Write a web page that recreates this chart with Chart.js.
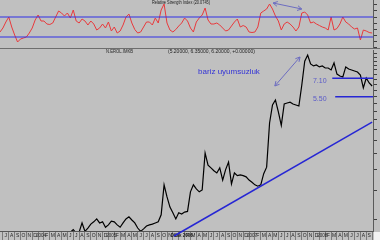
<!DOCTYPE html>
<html>
<head>
<meta charset="utf-8">
<script src="https://cdn.jsdelivr.net/npm/chart.js@4.4.0/dist/chart.umd.min.js"></script>
<style>
  html, body { margin: 0; padding: 0; background: #c0c0c0; }
  #wrap { position: relative; width: 380px; height: 240px; overflow: hidden; background: #c0c0c0; }
  #chartRsi { position: absolute; left: 0; top: 0; }
  #chartPrice { position: absolute; left: 0; top: 49px; }
  #sep { position: absolute; left: 0; top: 48px; width: 380px; height: 1px; background: #6e6e6e; }
  #corner { position: absolute; left: 374px; top: 232px; width: 6px; height: 8px; background: #f2f2f2; }
</style>
</head>
<body>
<div id="wrap">
  <canvas id="chartRsi" width="380" height="48"></canvas>
  <div id="sep"></div>
  <canvas id="chartPrice" width="380" height="191"></canvas>
  <div id="corner"></div>
</div>
<script>
// x axis is in months counted from June 2003, one point every half month
const XSTART = 0.5;
const STEP = 0.5;
const XMIN = 0.5;
const XMAX = 64.15;

const rsiValues = [
  40, 48, 60, 70, 50, 34, 20, 26, 28, 30,
  38, 48, 64, 74, 62, 62, 56, 55, 58, 70,
  82, 78, 72, 78, 68, 84, 62, 58, 66, 62,
  54, 62, 56, 44, 48, 56, 48, 60, 42, 50,
  38, 42, 54, 70, 76, 58, 45, 38, 40, 50,
  60, 60, 54, 68, 58, 84, 96, 58, 44, 40,
  45, 52, 58, 68, 62, 48, 40, 60, 68, 74,
  88, 64, 56, 56, 58, 54, 48, 42, 44, 52,
  60, 66, 50, 53, 50, 40, 39, 40, 50, 78,
  82, 86, 96, 86, 72, 62, 44, 56, 60, 56,
  50, 42, 50, 78, 80, 74, 58, 60, 56, 53,
  50, 48, 44, 70, 44, 47, 56, 70, 60, 56,
  50, 46, 48, 24, 44, 42, 39, 38
];

const priceValues = [
  0.72, 0.74, 0.73, 0.76, 0.75, 0.78, 0.77, 0.74, 0.76, 0.79, 0.78, 0.80,
  0.77, 0.79, 0.81, 0.78, 0.80, 0.82, 0.79, 0.81, 0.80, 0.83, 0.81, 0.82,
  0.84, 0.87, 0.83, 0.84, 0.955, 0.85, 0.89, 0.94, 0.97, 1.01,
  0.955, 0.97, 0.90, 0.93, 0.98, 0.97, 0.93, 0.90, 0.955, 1.01,
  1.04, 0.995, 0.955, 0.89, 0.85, 0.88, 0.915, 0.93, 0.94, 0.955,
  0.97, 1.07, 1.62, 1.37, 1.19, 1.10, 1.01, 1.10, 1.08, 1.11,
  1.12, 1.47, 1.62, 1.53, 1.47, 1.51, 2.52, 2.13, 2.05, 1.97,
  1.91, 2.05, 1.73, 2.00, 2.22, 1.64, 1.91, 1.84, 1.86, 1.84,
  1.81, 1.73, 1.68, 1.62, 1.59, 1.62, 1.89, 2.07, 3.82, 4.90,
  5.25, 4.45, 3.70, 4.97, 5.04, 5.10, 4.97, 4.90, 4.83, 6.47,
  9.00, 9.80, 8.66, 8.43, 8.54, 8.31, 8.43, 8.19, 8.19, 7.97,
  8.78, 7.53, 7.33, 7.23, 8.31, 8.08, 7.97, 7.86, 7.75, 7.43,
  6.21, 7.13, 6.65, 6.38
];

// month labels, July 2003 .. September 2008
const monthLabels = [
  "J", "A", "S", "O", "N", "D",
  "2004", "F", "M", "A", "M", "J", "J", "A", "S", "O", "N", "D",
  "2005", "F", "M", "A", "M", "J", "J", "A", "S", "O", "N", "D",
  "Ocak 2006", "F", "M", "A", "M", "J", "J", "A", "S", "O", "N", "D",
  "2007", "F", "M", "A", "M", "J", "J", "A", "S", "O", "N", "D",
  "2008", "F", "M", "A", "M", "J", "J", "A", "S"
];
const priceTicks = [1, 1.5, 2, 2.5, 3, 3.5, 4, 4.5, 5, 5.5, 6, 6.5, 7, 7.5, 8, 8.5, 9, 9.5, 10];
const rsiTicks = [10, 22, 34, 46, 58, 70, 82, 94];
const rsiLevels = [70, 30];

// annotations drawn on the price panel (months, price)
const levelValues = [7.10, 5.50];
const levelLabels = ["7.10", "5.50"];
const levelStart = [57.2, 57.7];
const levelLabelMonth = 53.9;
const trendLine = [[30.2, 0.797], [64.0, 3.87]];
const priceArrow = [[47.4, 6.38], [51.7, 9.54]];
const rsiArrow = [[47.1, 98], [52.0, 86]];
const noteText = "bariz uyumsuzluk";
const notePos = [34.3, 7.75];

function toPoints(values) {
  return values.map((v, i) => ({ x: XSTART + i * STEP, y: v }));
}

function doubleArrow(ctx, a, b, color) {
  ctx.save();
  ctx.strokeStyle = color;
  ctx.lineWidth = 1;
  ctx.beginPath();
  ctx.moveTo(a[0], a[1]);
  ctx.lineTo(b[0], b[1]);
  ctx.stroke();
  const ang = Math.atan2(b[1] - a[1], b[0] - a[0]);
  [[b, ang], [a, ang + Math.PI]].forEach(([p, t]) => {
    ctx.beginPath();
    ctx.moveTo(p[0] - 5 * Math.cos(t - 0.5), p[1] - 5 * Math.sin(t - 0.5));
    ctx.lineTo(p[0], p[1]);
    ctx.lineTo(p[0] - 5 * Math.cos(t + 0.5), p[1] - 5 * Math.sin(t + 0.5));
    ctx.stroke();
  });
  ctx.restore();
}

function sidePx(chart, pt) {
  return [chart.scales.x.getPixelForValue(pt[0]), chart.scales.y.getPixelForValue(pt[1])];
}

const rsiDecor = {
  id: "rsiDecor",
  afterDraw(chart) {
    const ctx = chart.ctx;
    doubleArrow(ctx, sidePx(chart, rsiArrow[0]), sidePx(chart, rsiArrow[1]), "#6c6cc0");
    ctx.save();
    ctx.fillStyle = "#202020";
    ctx.font = "5px Arial, 'Liberation Sans', sans-serif";
    ctx.textBaseline = "middle";
    ctx.fillText("Relative Strength Index (20.0745)", 152, 3, 58);
    ctx.restore();
  }
};

const priceDecor = {
  id: "priceDecor",
  afterDraw(chart) {
    const ctx = chart.ctx;
    const area = chart.chartArea;
    const xs = chart.scales.x;
    const ys = chart.scales.y;
    ctx.save();
    // trend line, runs over the date strip
    const t0 = sidePx(chart, trendLine[0]);
    const t1 = sidePx(chart, trendLine[1]);
    ctx.strokeStyle = "#2626d4";
    ctx.lineWidth = 1.5;
    ctx.beginPath();
    ctx.moveTo(t0[0], t0[1]);
    ctx.lineTo(t1[0], t1[1]);
    ctx.stroke();
    // support / resistance levels
    levelValues.forEach((lv, i) => {
      const y = ys.getPixelForValue(lv);
      ctx.strokeStyle = "#2626d4";
      ctx.lineWidth = 1.6;
      ctx.beginPath();
      ctx.moveTo(xs.getPixelForValue(levelStart[i]), y);
      ctx.lineTo(area.right, y);
      ctx.stroke();
      ctx.fillStyle = "#5a5ac8";
      ctx.font = "7px Arial, 'Liberation Sans', sans-serif";
      ctx.textBaseline = "top";
      ctx.fillText(levelLabels[i], xs.getPixelForValue(levelLabelMonth), y - 1);
    });
    // note
    const np = sidePx(chart, notePos);
    ctx.fillStyle = "#3333d6";
    ctx.font = "8px Arial, 'Liberation Sans', sans-serif";
    ctx.textBaseline = "middle";
    ctx.fillText(noteText, np[0], np[1]);
    // header texts
    ctx.fillStyle = "#252525";
    ctx.font = "5px Arial, 'Liberation Sans', sans-serif";
    ctx.fillText("N.EROL.IMKB", 106, area.top + 2, 27);
    ctx.fillText("(5.20000, 6.35000, 6.20000, +0.00000)", 168, area.top + 2, 87);
    ctx.restore();
    doubleArrow(ctx, sidePx(chart, priceArrow[0]), sidePx(chart, priceArrow[1]), "#6c6cc0");
  }
};

function rightAxis(extra) {
  return Object.assign({
    position: "right",
    bounds: "data",
    ticks: { display: false },
    grid: { drawOnChartArea: false, drawTicks: true, tickLength: 4, color: "#404040" },
    border: { display: true, color: "#5a5a5a", width: 1 },
    afterFit: (scale) => { scale.width = 7; }
  }, extra);
}

// horizontal RSI bands as plain two-point datasets, drawn over the RSI line
const levelSets = rsiLevels.map((lv) => ({
  data: [{ x: XMIN, y: lv }, { x: XMAX, y: lv }],
  borderColor: "#2f2fe6",
  borderWidth: 1,
  pointRadius: 0,
  order: 0
}));

new Chart(document.getElementById("chartRsi"), {
  type: "line",
  data: {
    datasets: [{
      data: toPoints(rsiValues),
      borderColor: "#e8393c",
      borderWidth: 1,
      pointRadius: 0,
      tension: 0,
      order: 1
    }].concat(levelSets)
  },
  options: {
    responsive: false,
    animation: false,
    events: [],
    layout: { padding: 0, autoPadding: false },
    plugins: { legend: { display: false }, tooltip: { enabled: false } },
    scales: {
      x: { type: "linear", min: XMIN, max: XMAX, display: false },
      y: rightAxis({
        type: "linear",
        min: 8,
        max: 104,
        afterBuildTicks: (scale) => { scale.ticks = rsiTicks.map((v) => ({ value: v })); }
      })
    }
  },
  plugins: [rsiDecor]
});

new Chart(document.getElementById("chartPrice"), {
  type: "line",
  data: {
    datasets: [{
      data: toPoints(priceValues),
      borderColor: "#000000",
      borderWidth: 1.2,
      pointRadius: 0,
      tension: 0
    }]
  },
  options: {
    responsive: false,
    animation: false,
    events: [],
    layout: { padding: { top: 1, left: 0, right: 0, bottom: 0 }, autoPadding: false },
    plugins: { legend: { display: false }, tooltip: { enabled: false } },
    scales: {
      x: {
        type: "linear",
        min: XMIN,
        max: XMAX,
        afterBuildTicks: (scale) => {
          scale.ticks = monthLabels.map((_, i) => ({ value: 1.5 + i }));
        },
        afterFit: (scale) => {
          scale.height = 9;
          scale.paddingLeft = 0;
          scale.paddingRight = 0;
        },
        ticks: {
          autoSkip: false,
          maxRotation: 0,
          padding: -7,
          color: "#1e1e1e",
          font: (c) => {
            const lab = c.tick ? c.tick.label : "";
            return {
              size: lab.length > 1 ? 4.5 : 5,
              family: "Arial, 'Liberation Sans', sans-serif",
              weight: lab === "Ocak 2006" ? "bold" : "normal"
            };
          },
          callback: (value, index) => monthLabels[index]
        },
        grid: { offset: true, drawOnChartArea: false, drawTicks: true, tickLength: 9, color: "#7a7a7a" },
        border: { display: true, color: "#555555", width: 1 }
      },
      y: rightAxis({
        type: "logarithmic",
        min: 0.854,
        max: 10.51,
        afterBuildTicks: (scale) => { scale.ticks = priceTicks.map((v) => ({ value: v })); }
      })
    }
  },
  plugins: [priceDecor]
});
</script>
</body>
</html>
